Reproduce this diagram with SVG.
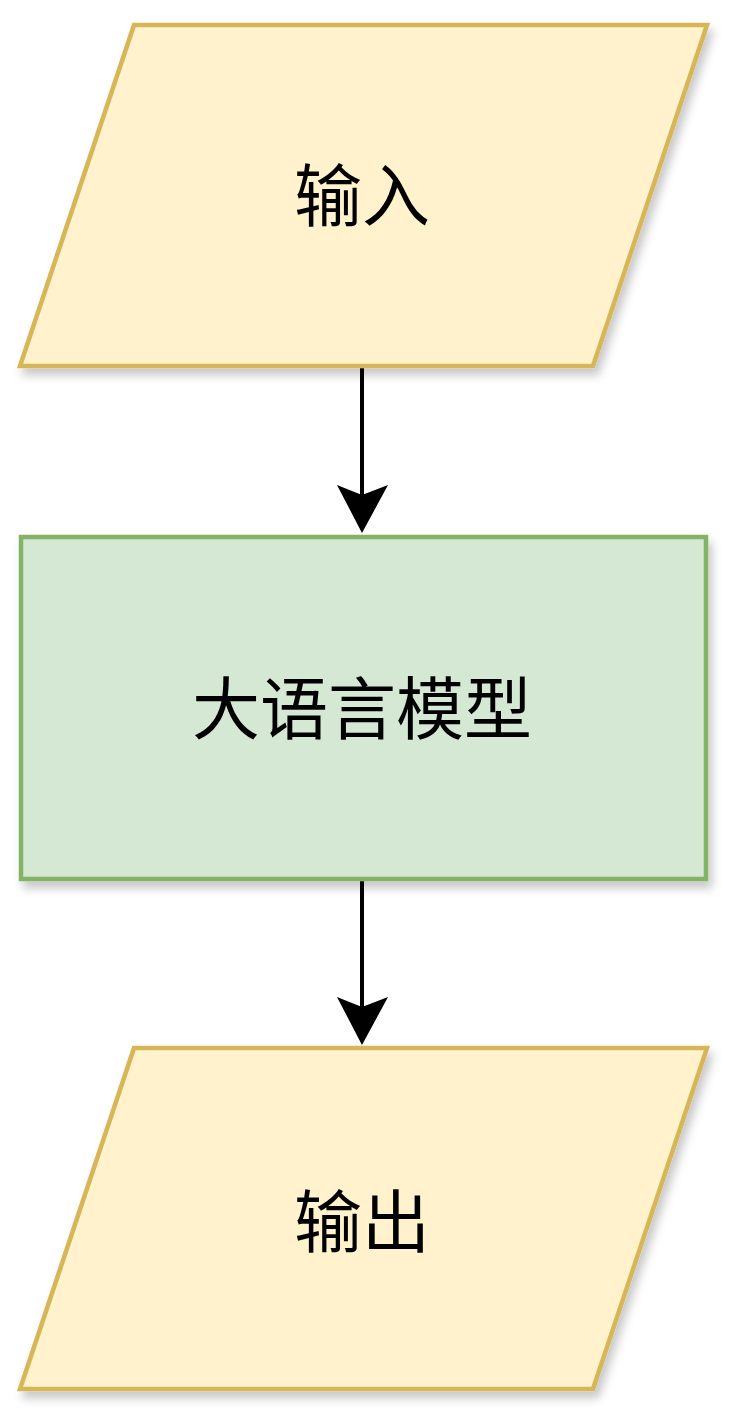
<svg xmlns="http://www.w3.org/2000/svg" width="736" height="1416" viewBox="0 0 736 1416">
<defs>
<filter id="sh" x="-10%" y="-10%" width="130%" height="130%">
<feDropShadow dx="4" dy="7" stdDeviation="5" flood-color="#000" flood-opacity="0.22"/>
</filter>
<style>
.io{fill:#fff2cc;stroke:#d6b656;stroke-width:4.5;filter:url(#sh)}
.pr{fill:#d5e8d4;stroke:#82b366;stroke-width:4.5;filter:url(#sh)}
.t{font-family:"Noto Sans CJK SC","Noto Sans",sans-serif;font-size:68px;fill:#000;text-anchor:middle;dominant-baseline:central}
.c{stroke:#000;stroke-width:4;fill:none}
</style>
</defs>
<g id="connectors">
<line class="c" x1="362" y1="368" x2="362" y2="500"/>
<path d="M337,485 L362,495 L388,485 L362,533 Z" fill="#000"/>
<line class="c" x1="362" y1="880" x2="362" y2="1012"/>
<path d="M337,997 L362,1007 L388,997 L362,1045 Z" fill="#000"/>
</g>
<g id="input">
<polygon class="io" points="134,25 707,25 593,366 20,366"/>
<text class="t" x="362" y="191">输入</text>
</g>
<g id="llm">
<rect class="pr" x="21" y="537" width="685" height="342"/>
<text class="t" x="362" y="704">大语言模型</text>
</g>
<g id="output">
<polygon class="io" points="134,1048 707,1048 593,1389 20,1389"/>
<text class="t" x="362" y="1217">输出</text>
</g>
</svg>
